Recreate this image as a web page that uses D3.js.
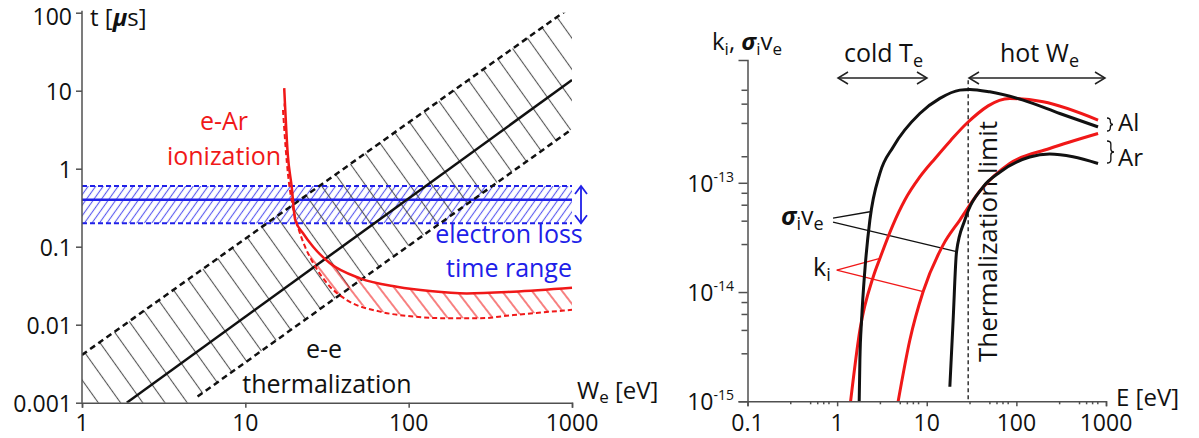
<!DOCTYPE html>
<html><head><meta charset="utf-8">
<script src="https://cdn.jsdelivr.net/npm/d3@7"></script>
<style>
html,body{margin:0;padding:0;background:#fff;}
svg{display:block;font-family:"Open Sans",sans-serif;}
</style></head><body>
<svg id="chart" width="1199" height="438"></svg>
<script>
// ---------------- DATA ----------------
// Left panel: time scales t [µs] vs electron energy W_e [eV]
const leftXTicks = [1, 10, 100, 1000];
const leftXTickLabels = ["1", "10", "100", "1000"];
const leftYTicks = [0.001, 0.01, 0.1, 1, 10, 100];
const leftYTickLabels = ["0.001", "0.01", "0.1", "1", "10", "100"];

// e-e thermalization band (W, t)
const eeUpperW = [1, 910];
const eeUpperT = [0.0041, 105];
const eeCenterW = [1.88, 1000];
const eeCenterT = [0.001, 13.7];
const eeLowerW = [5.1, 975];
const eeLowerT = [0.0012, 3.1];

// electron loss time range (t values) over W = 1..1000
const lossW = [1, 1000];
const lossT = [0.2, 0.4, 0.6];

// e-Ar ionization: solid (upper) and dashed (lower) curves
const ionSolidW = [17.3, 18.2, 19.2, 20.2, 22.5, 26, 33, 50.4, 84.6, 135, 227, 438, 1000];
const ionSolidT = [10.8, 1.5, 0.6, 0.22, 0.15, 0.1, 0.0612, 0.0393, 0.0307, 0.027, 0.0252, 0.0265, 0.0298];
const ionDashW = [17.0, 17.6, 18.3, 19.4, 21.0, 23.2, 26.1, 33, 41.8, 66.8, 107, 171, 274, 438, 1000];
const ionDashT = [5.66, 2.0, 0.8, 0.35, 0.18, 0.1, 0.0612, 0.0307, 0.0207, 0.0147, 0.0127, 0.0121, 0.0121, 0.0133, 0.0155];

// Right panel: k_i, sigma_i v_e vs E [eV]
const rightXTicks = [0.1, 1, 10, 100, 1000];
const rightXTickLabels = ["0.1", "1", "10", "100", "1000"];
const rightXMinorMult = [3, 5, 6, 7, 8];
const rightYTicks = [1e-15, 1e-14, 1e-13];
const rightYTickExp = ["-15", "-14", "-13"];
const rightYMinorLow = [2.75, 4.5, 6.3, 8.1];
const rightYMinorHigh = [1.75, 3.53, 5.3, 7.1];

const sigmaAlE = [1.763, 1.795, 1.876, 2.04, 2.32, 3.0, 4.22, 8.37, 14.0, 23.4, 30.2, 50.5, 119, 305, 815];
const sigmaAlV = [1e-15, 2.39e-15, 5.55e-15, 1.59e-14, 4.56e-14, 1.22e-13, 2.13e-13, 4.31e-13, 5.92e-13, 7.05e-13, 7.16e-13, 6.8e-13, 5.71e-13, 4.31e-13, 3.25e-13];
const kAlE = [1.414, 1.795, 2.53, 3.0, 4.19, 5.70, 8.37, 12.46, 18.4, 27.8, 84.3, 199, 815];
const kAlV = [1e-15, 4.49e-15, 1.38e-14, 2.03e-14, 4.1e-14, 6.95e-14, 1.13e-13, 1.68e-13, 2.43e-13, 3.49e-13, 5.92e-13, 5.51e-13, 3.75e-13];
const kArE = [4.8, 6.48, 9.12, 15.2, 23.4, 39.1, 84.3, 235, 815];
const kArV = [1e-15, 3.64e-15, 1.01e-14, 2.69e-14, 4.56e-14, 8.4e-14, 1.5e-13, 2.06e-13, 2.83e-13];
const sigmaArE = [18.1, 19.7, 21.5, 26.6, 42.6, 65.3, 141, 235, 428, 815];
const sigmaArV = [1.36e-15, 5.55e-15, 2.34e-14, 4.56e-14, 9.19e-14, 1.25e-13, 1.72e-13, 1.83e-13, 1.73e-13, 1.5e-13];

const thermLimitE = 29;
const thermLimitTop = 8.7e-13;

// ---------------- CHART ----------------
const svg = d3.select("#chart");
const RED = "#f01818", BLUE = "#2020e8", BLUEH = "#5a5af0", AX = "#505050";
const zip = (a, b) => a.map((v, i) => [v, b[i]]);

const xL = d3.scaleLog().domain([1, 1000]).range([82, 572]);
const yL = d3.scaleLog().domain([0.001, 100]).range([402.7, 12.7]);
const xR = d3.scaleLog().domain([0.1, 1000]).range([747.5, 1106]);
const yR = d3.scaleLog().domain([1e-15, 1.33e-12]).range([401.3, 60]);

const defs = svg.append("defs");
function hatch(id, color, spacing, angle, width) {
  const p = defs.append("pattern").attr("id", id).attr("patternUnits", "userSpaceOnUse")
    .attr("width", spacing).attr("height", spacing)
    .attr("patternTransform", `rotate(${angle})`);
  p.append("line").attr("x1", spacing / 2).attr("x2", spacing / 2).attr("y1", -1).attr("y2", spacing + 1)
    .attr("stroke", color).attr("stroke-width", width);
}
hatch("hBlack", "#555", 18.1, -35.5, 1.1);
hatch("hBlue", BLUEH, 6.1, 35.5, 1.1);
hatch("hRed", RED, 11.9, -37.6, 1.1);

defs.append("clipPath").attr("id", "clipL").append("rect")
  .attr("x", xL(1)).attr("y", yL(100)).attr("width", xL(1000) - xL(1)).attr("height", yL(0.001) - yL(100));

const lineL = d3.line().x(d => xL(d[0])).y(d => yL(d[1]));
const lineLC = d3.line().x(d => xL(d[0])).y(d => yL(d[1])).curve(d3.curveMonotoneX);
const lineR = d3.line().x(d => xR(d[0])).y(d => yR(d[1])).curve(d3.curveMonotoneX);
const lineRL = d3.line().x(d => xR(d[0])).y(d => yR(d[1]));

// power-law extension of a two-point log-log line
function pw(W, T) {
  const s = Math.log(T[1] / T[0]) / Math.log(W[1] / W[0]);
  return w => T[0] * Math.pow(w / W[0], s);
}
const fU = pw(eeUpperW, eeUpperT), fLo = pw(eeLowerW, eeLowerT);

const gL = svg.append("g");
const gClip = gL.append("g").attr("clip-path", "url(#clipL)");

// blue hatched band
gClip.append("path")
  .attr("d", lineL([[lossW[0], lossT[0]], [lossW[1], lossT[0]], [lossW[1], lossT[2]], [lossW[0], lossT[2]]]) + "Z")
  .attr("fill", "url(#hBlue)");
// e-e band hatch
gClip.append("path")
  .attr("d", lineL([[1, fU(1)], [1000, fU(1000)], [1000, fLo(1000)], [1, fLo(1)]]) + "Z")
  .attr("fill", "url(#hBlack)");
// red hatch between ionization curves
const solidPts = zip(ionSolidW, ionSolidT), dashPts = zip(ionDashW, ionDashT);
gClip.append("path")
  .attr("d", lineL(solidPts.concat(dashPts.slice().reverse())) + "Z")
  .attr("fill", "url(#hRed)");

// blue lines
[[lossT[2], "5,3"], [lossT[0], "5,3"], [lossT[1], null]].forEach(([t, dash]) => {
  gClip.append("path").attr("d", lineL([[lossW[0], t], [lossW[1], t]]))
    .attr("stroke", BLUE).attr("stroke-width", dash ? 2 : 2.5).attr("fill", "none")
    .attr("stroke-dasharray", dash);
});
// e-e lines
gClip.append("path").attr("d", lineL(zip(eeUpperW, eeUpperT))).attr("stroke", "#111").attr("stroke-width", 2.5)
  .attr("fill", "none").attr("stroke-dasharray", "6,4");
gClip.append("path").attr("d", lineL(zip(eeLowerW, eeLowerT))).attr("stroke", "#111").attr("stroke-width", 2.5)
  .attr("fill", "none").attr("stroke-dasharray", "6,4");
gClip.append("path").attr("d", lineL(zip(eeCenterW, eeCenterT))).attr("stroke", "#111").attr("stroke-width", 2.5)
  .attr("fill", "none");
// red lines
gL.append("path").attr("d", lineLC(dashPts)).attr("stroke", RED).attr("stroke-width", 2)
  .attr("fill", "none").attr("stroke-dasharray", "5,3");
gL.append("path").attr("d", lineLC(solidPts)).attr("stroke", RED).attr("stroke-width", 2.5).attr("fill", "none");

// double arrows
function dblArrowV(g, x, y0, y1, color, w) {
  g.append("line").attr("x1", x).attr("x2", x).attr("y1", y0).attr("y2", y1).attr("stroke", color).attr("stroke-width", w);
  g.append("path").attr("d", `M${x - 6},${y0 + 8}L${x},${y0}L${x + 6},${y0 + 8}M${x - 6},${y1 - 8}L${x},${y1}L${x + 6},${y1 - 8}`)
    .attr("stroke", color).attr("stroke-width", w).attr("fill", "none");
}
function dblArrowH(g, x0, x1, y, color, w) {
  g.append("line").attr("x1", x0).attr("x2", x1).attr("y1", y).attr("y2", y).attr("stroke", color).attr("stroke-width", w);
  g.append("path").attr("d", `M${x0 + 10},${y - 6}L${x0},${y}L${x0 + 10},${y + 6}M${x1 - 10},${y - 6}L${x1},${y}L${x1 - 10},${y + 6}`)
    .attr("stroke", color).attr("stroke-width", w).attr("fill", "none");
}
dblArrowV(gL, 581, yL(lossT[2]), yL(lossT[0]), BLUE, 1.8);

// left axes
const axXL = d3.axisBottom(xL).tickValues(leftXTicks).tickFormat(() => "").tickSizeOuter(0).tickSize(5);
const axYL = d3.axisLeft(yL).tickValues(leftYTicks).tickFormat(() => "").tickSizeOuter(0).tickSize(6);
const gxL = gL.append("g").attr("transform", `translate(0,${yL(0.001)})`).call(axXL);
const gyL = gL.append("g").attr("transform", `translate(${xL(1)},0)`).call(axYL);
[gxL, gyL].forEach(g => { g.selectAll("path,line").attr("stroke", AX).attr("stroke-width", 1.5); });
gyL.select(".domain").attr("d", `M0,${yL(100) - 2}V${yL(0.001)}`);

leftXTicks.forEach((v, i) => gL.append("text").attr("x", xL(v)).attr("y", 431).attr("text-anchor", "middle")
  .attr("font-size", 23).attr("fill", "#111").text(leftXTickLabels[i]));
leftYTicks.forEach((v, i) => gL.append("text").attr("x", 72).attr("y", Math.max(yL(v) + 9, 25)).attr("text-anchor", "end")
  .attr("font-size", 23).attr("fill", "#111").text(leftYTickLabels[i]));

// left titles
const tT = gL.append("text").attr("x", 90).attr("y", 26).attr("font-size", 24).attr("fill", "#111");
tT.append("tspan").text("t [");
tT.append("tspan").attr("font-style", "italic").attr("font-weight", "bold").text("μ");
tT.append("tspan").text("s]");
const tW = gL.append("text").attr("x", 577).attr("y", 399).attr("font-size", 24).attr("fill", "#111");
tW.append("tspan").text("W");
tW.append("tspan").attr("font-size", 17).attr("dy", 4).text("e");
tW.append("tspan").attr("dy", -4).text(" [eV]");

// left annotations
function label(g, x, y, txt, color, size, anchor) {
  return g.append("text").attr("x", x).attr("y", y).attr("text-anchor", anchor || "middle")
    .attr("font-size", size || 25).attr("fill", color).text(txt);
}
label(gL, 224, 130, "e-Ar", RED);
label(gL, 224, 165, "ionization", RED);
label(gL, 509, 243, "electron loss", BLUE);
label(gL, 509, 277, "time range", BLUE);
label(gL, 324, 358, "e-e", "#111");
label(gL, 327, 393, "thermalization", "#111");

// ---------------- RIGHT PANEL ----------------
const gR = svg.append("g");
// thermalization limit
gR.append("line").attr("x1", xR(thermLimitE)).attr("x2", xR(thermLimitE))
  .attr("y1", yR(thermLimitTop)).attr("y2", yR(1e-15))
  .attr("stroke", "#333").attr("stroke-width", 1.5).attr("stroke-dasharray", "4,3");
gR.append("text").attr("transform", `translate(${xR(thermLimitE) + 29},362) rotate(-90)`)
  .attr("font-size", 26).attr("fill", "#111").text("Thermalization limit");

// leader lines
gR.append("path").attr("d", lineRL([[0.9, 4.75e-14], [2.32, 5.43e-14]]))
  .attr("stroke", "#111").attr("stroke-width", 1.3).attr("fill", "none");
gR.append("path").attr("d", lineRL([[0.9, 4.36e-14], [21.5, 2.34e-14]]))
  .attr("stroke", "#111").attr("stroke-width", 1.3).attr("fill", "none");
gR.append("path").attr("d", lineRL([[0.99, 1.59e-14], [3.0, 2.03e-14]]))
  .attr("stroke", RED).attr("stroke-width", 1.3).attr("fill", "none");
gR.append("path").attr("d", lineRL([[0.99, 1.59e-14], [9.12, 1.01e-14]]))
  .attr("stroke", RED).attr("stroke-width", 1.3).attr("fill", "none");

// curves
gR.append("path").attr("d", lineR(zip(kAlE, kAlV))).attr("stroke", RED).attr("stroke-width", 3).attr("fill", "none");
gR.append("path").attr("d", lineR(zip(kArE, kArV))).attr("stroke", RED).attr("stroke-width", 3).attr("fill", "none");
gR.append("path").attr("d", lineR(zip(sigmaAlE, sigmaAlV))).attr("stroke", "#111").attr("stroke-width", 3).attr("fill", "none");
gR.append("path").attr("d", lineR(zip(sigmaArE, sigmaArV))).attr("stroke", "#111").attr("stroke-width", 3).attr("fill", "none");

// axes
const minorX = [];
rightXTicks.slice(0, -1).forEach(d => rightXMinorMult.forEach(m => minorX.push(d * m)));
const minorY = [];
[1e-15, 1e-14].forEach(d => rightYMinorLow.forEach(m => minorY.push(d * m)));
rightYMinorHigh.forEach(m => minorY.push(1e-13 * m));

const gxR = gR.append("g").attr("transform", `translate(0,${yR(1e-15)})`)
  .call(d3.axisBottom(xR).tickValues(rightXTicks).tickFormat(() => "").tickSizeOuter(0).tickSize(5));
gxR.append("g").call(d3.axisBottom(xR).tickValues(minorX).tickFormat(() => "").tickSizeOuter(0).tickSize(3))
  .select(".domain").remove();
const gyR = gR.append("g").attr("transform", `translate(${xR(0.1)},0)`)
  .call(d3.axisLeft(yR).tickValues(rightYTicks).tickFormat(() => "").tickSizeOuter(0).tickSize(9));
gyR.append("g").call(d3.axisLeft(yR).tickValues(minorY).tickFormat(() => "").tickSizeOuter(0).tickSize(6))
  .select(".domain").remove();
[gxR, gyR].forEach(g => { g.selectAll("path,line").attr("stroke", AX).attr("stroke-width", 1.5); });

rightXTicks.forEach((v, i) => gR.append("text").attr("x", xR(v)).attr("y", 431).attr("text-anchor", "middle")
  .attr("font-size", 23).attr("fill", "#111").text(rightXTickLabels[i]));
rightYTicks.forEach((v, i) => {
  const t = gR.append("text").attr("x", 734).attr("y", yR(v) + 9).attr("text-anchor", "end")
    .attr("font-size", 23).attr("fill", "#111");
  t.append("tspan").text("10");
  t.append("tspan").attr("font-size", 14).attr("dy", -10).text(rightYTickExp[i]);
});

// titles
const tk = gR.append("text").attr("x", 712).attr("y", 50).attr("font-size", 24).attr("fill", "#111");
tk.append("tspan").text("k");
tk.append("tspan").attr("font-size", 17).attr("dy", 5).text("i");
tk.append("tspan").attr("dy", -5).text(", ");
tk.append("tspan").attr("font-style", "italic").attr("font-weight", "bold").text("σ");
tk.append("tspan").attr("font-size", 17).attr("dy", 5).text("i");
tk.append("tspan").attr("dy", -5).text("v");
tk.append("tspan").attr("font-size", 17).attr("dy", 5).text("e");

gR.append("text").attr("x", 1116).attr("y", 406).attr("font-size", 24).attr("fill", "#111").text("E [eV]");

const tc = gR.append("text").attr("x", 844).attr("y", 62).attr("font-size", 25).attr("fill", "#111");
tc.append("tspan").text("cold T");
tc.append("tspan").attr("font-size", 18).attr("dy", 5).text("e");
const th = gR.append("text").attr("x", 1000).attr("y", 62).attr("font-size", 25).attr("fill", "#111");
th.append("tspan").text("hot W");
th.append("tspan").attr("font-size", 18).attr("dy", 5).text("e");
dblArrowH(gR, 838, 927, 78, "#222", 1.5);
dblArrowH(gR, 969, 1105, 78, "#222", 1.5);

const ts = gR.append("text").attr("x", 781).attr("y", 225).attr("font-size", 25).attr("fill", "#111");
ts.append("tspan").attr("font-style", "italic").attr("font-weight", "bold").text("σ");
ts.append("tspan").attr("font-size", 18).attr("dy", 5).text("i");
ts.append("tspan").attr("dy", -5).text("v");
ts.append("tspan").attr("font-size", 18).attr("dy", 5).text("e");
const tki = gR.append("text").attr("x", 813).attr("y", 276).attr("font-size", 25).attr("fill", "#111");
tki.append("tspan").text("k");
tki.append("tspan").attr("font-size", 18).attr("dy", 5).text("i");

function brace(g, x, y0, y1, w) {
  const m = (y0 + y1) / 2, q = Math.min(3, (y1 - y0) / 4), a = x + w * 0.55;
  g.append("path").attr("d",
    `M${x},${y0}Q${a},${y0} ${a},${y0 + q}L${a},${m - q}Q${a},${m} ${x + w},${m}Q${a},${m} ${a},${m + q}L${a},${y1 - q}Q${a},${y1} ${x},${y1}`)
    .attr("stroke", "#111").attr("stroke-width", 1.3).attr("fill", "none");
}
brace(gR, 1107, 118, 131, 6);
brace(gR, 1107, 141, 163, 7);
label(gR, 1118, 131, "Al", "#111", 24, "start");
label(gR, 1118, 166, "Ar", "#111", 24, "start");
</script>
</body></html>
